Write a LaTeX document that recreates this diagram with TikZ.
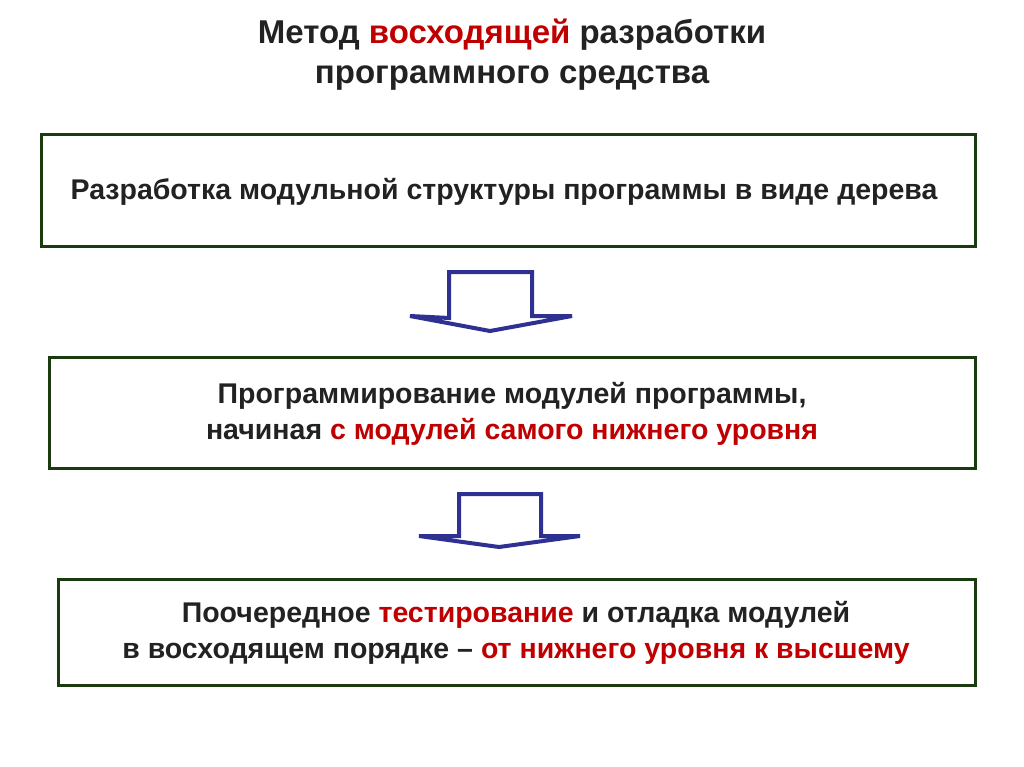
\documentclass[tikz,border=0pt]{standalone}
\usepackage{fontspec}
\setmainfont{Liberation Sans}
\definecolor{bx}{HTML}{1A3A10}
\definecolor{ar}{HTML}{2E3192}
\definecolor{rd}{HTML}{C00000}
\definecolor{tx}{HTML}{222222}
\begin{document}
\begin{tikzpicture}[x=1pt,y=-1pt,
  box/.style={draw=bx,line width=3pt},
  arr/.style={draw=ar,line width=4pt,line join=miter},
  lbl/.style={font=\bfseries\fontsize{28.5}{36}\selectfont,text=tx,align=center}]
\useasboundingbox (0,0) rectangle (1024,767);
\node[lbl,font=\bfseries\fontsize{33}{40}\selectfont] (title) at (512,55) {Метод \textcolor{rd}{восходящей} разработки\\программного средства};
\draw[box] (41,135) rectangle (975,246);
\node[lbl] (t1) at (504,192) {Разработка модульной структуры программы в виде дерева};
\draw[arr] (449,318) -- (449,272) -- (532,272) -- (532,316) -- (572,316) -- (490,331) -- (410,316) -- cycle;
\draw[box] (49,357) rectangle (975,468);
\node[lbl] (t2) at (512,414) {Программирование модулей программы,\\начиная \textcolor{rd}{с модулей самого нижнего уровня}};
\draw[arr] (459,536) -- (459,494) -- (541,494) -- (541,536) -- (580,536) -- (499,547) -- (419,536) -- cycle;
\draw[box] (58,579) rectangle (975,685);
\node[lbl] (t3) at (516,633) {Поочередное \textcolor{rd}{тестирование} и отладка модулей\\в восходящем порядке -- \textcolor{rd}{от нижнего уровня к высшему}};
\end{tikzpicture}
\end{document}
